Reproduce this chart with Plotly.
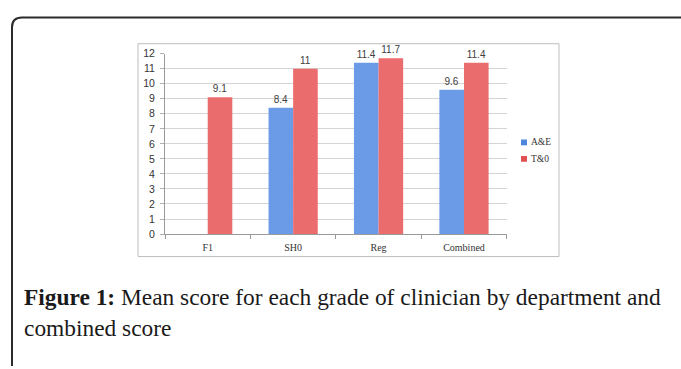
import plotly.graph_objects as go

# Mean scores per clinician grade, by department
categories = ["F1", "SH0", "Reg", "Combined"]
series_names = ["A&E", "T&0"]
ae_scores = [None, 8.4, 11.4, 9.6]
to_scores = [9.1, 11.0, 11.7, 11.4]
y_ticks = list(range(0, 13))

series_colors = ["#6b9be6", "#ea6c6c"]
legend_colors = ["#4f86dd", "#e05252"]

W, H = 681, 369


def px(x):
    return x / W


def py(y):
    return 1 - y / H


label_font = dict(family="Liberation Sans, Arial, sans-serif", size=10, color="#404040")
serif = "Liberation Serif, Times New Roman, serif"

fig = go.Figure()
for name, values, color in zip(series_names, [ae_scores, to_scores], series_colors):
    fig.add_trace(go.Bar(
        name=name, x=categories, y=values,
        marker=dict(color=color, line=dict(width=0)),
        text=[("%g" % v) if v is not None else "" for v in values],
        textposition="outside", textfont=label_font, cliponaxis=False,
        showlegend=False,
    ))

# outer figure frame with a rounded top-left corner
frame_path = "M {},{} L {},{} Q {},{} {},{} L {},{}".format(
    px(12), py(372), px(12), py(22), px(12), py(12), px(22), py(12), px(684), py(12))
shapes = [
    dict(type="path", xref="paper", yref="paper", path=frame_path,
         line=dict(color="#2b2b2b", width=2)),
    # chart area border
    dict(type="rect", xref="paper", yref="paper",
         x0=px(138), x1=px(559), y0=py(259), y1=py(39),
         line=dict(color="#bdbdbd", width=1), layer="below"),
]

caption_font = dict(family=serif, size=23.4, color="#1a1a1a")
annotations = [
    dict(xref="paper", yref="paper", x=px(22), y=py(301), xanchor="left", yanchor="middle",
         text="<b>Figure 1:</b> Mean score for each grade of clinician by department and",
         showarrow=False, font=caption_font),
    dict(xref="paper", yref="paper", x=px(22), y=py(333), xanchor="left", yanchor="middle",
         text="combined score", showarrow=False, font=caption_font),
]

# compact legend: small square swatches with labels
legend_rows = [141, 158]
for name, color, yc in zip(series_names, legend_colors, legend_rows):
    shapes.append(dict(type="rect", xref="paper", yref="paper",
                       x0=px(521), x1=px(527), y0=py(yc + 3), y1=py(yc - 3),
                       fillcolor=color, line=dict(width=0)))
    annotations.append(dict(xref="paper", yref="paper", x=px(529), y=py(yc),
                            xanchor="left", yanchor="middle", text=name, showarrow=False,
                            font=dict(family=serif, size=9.5, color="#333333")))

fig.update_layout(
    width=W, height=H,
    margin=dict(l=0, r=0, t=0, b=0),
    paper_bgcolor="white", plot_bgcolor="white",
    barmode="group", bargap=0.424, bargroupgap=0,
    showlegend=False,
    xaxis=dict(domain=[px(165), px(506.7)], type="category",
               tickson="boundaries", ticks="outside", ticklen=4, tickcolor="#9a9a9a",
               showline=True, linecolor="#9a9a9a", linewidth=1,
               showgrid=False, ticklabelstandoff=4,
               tickfont=dict(family=serif, size=10, color="#333333")),
    yaxis=dict(domain=[py(235.7), py(49.3)], range=[0, 12],
               tickvals=y_ticks, ticks="outside", ticklen=4, tickcolor="#b0b0b0",
               showline=True, linecolor="#9a9a9a", linewidth=1,
               showgrid=True, gridcolor="#d4d4d4", gridwidth=1, zeroline=False,
               ticklabelstandoff=3,
               tickfont=dict(family="Liberation Sans, Arial, sans-serif", size=10.5, color="#333333")),
    shapes=shapes,
    annotations=annotations,
)

fig.write_html("out.html")
